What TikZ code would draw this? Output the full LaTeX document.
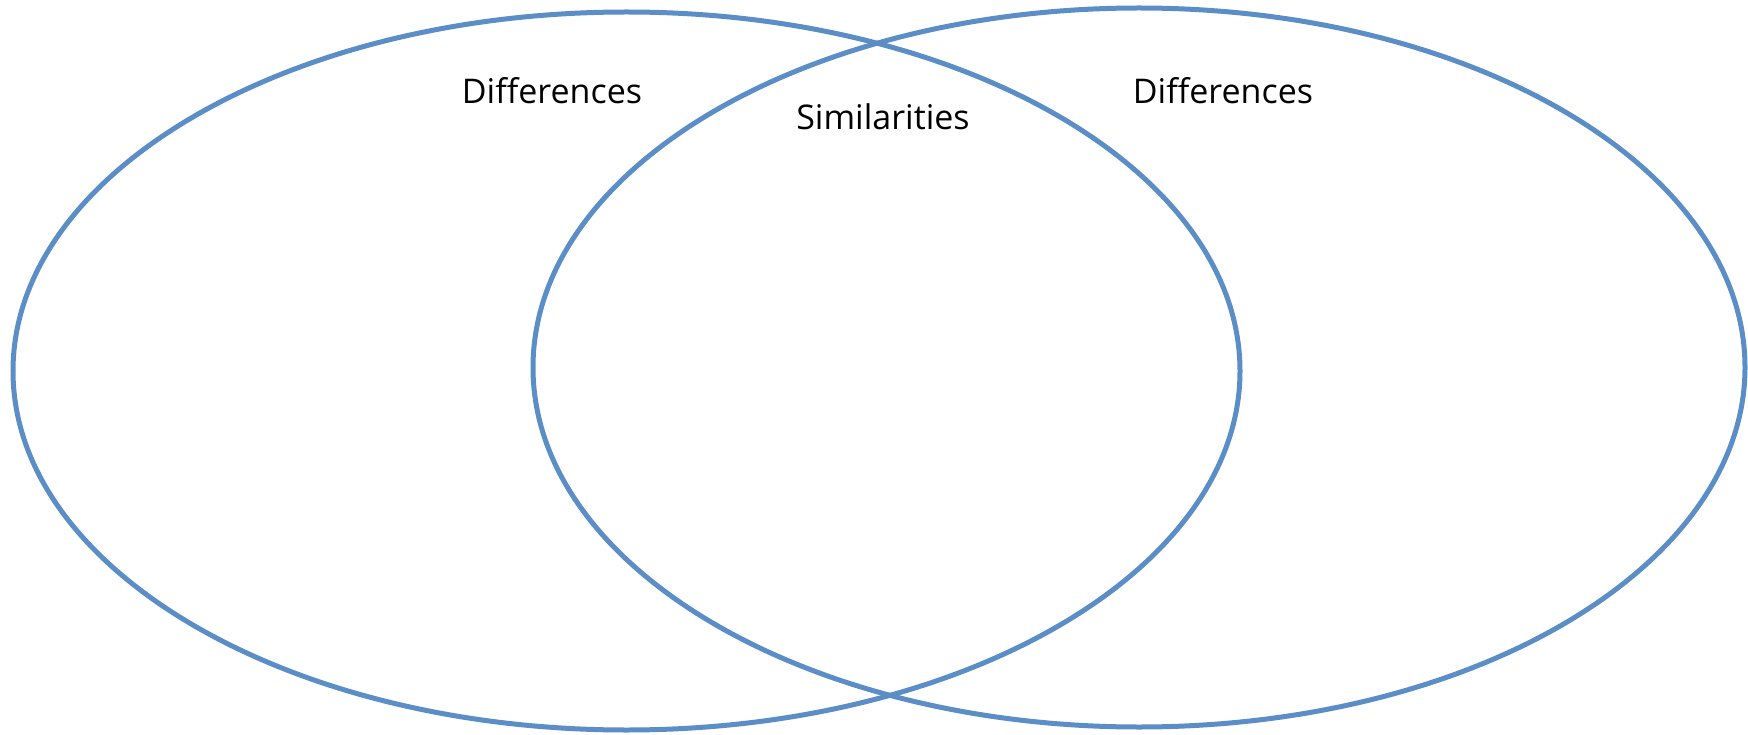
\documentclass[tikz,border=0pt]{standalone}
\usepackage{fontspec}
\setmainfont{Open Sans}
\definecolor{vennblue}{RGB}{91,142,199}
\begin{document}
\begin{tikzpicture}[x=1pt,y=-1pt,
  venn/.style={draw=vennblue,line width=5pt},
  lbl/.style={font=\fontsize{34}{38}\selectfont,text=black,inner sep=0pt}]
\useasboundingbox (0,0) rectangle (1748,735);
\draw[venn] (626.5,371) ellipse [x radius=613.5, y radius=359];
\draw[venn] (1139,367.5) ellipse [x radius=606, y radius=359.5];
\node[lbl] (diffL) at (552,91) {Differences};
\node[lbl] (sim) at (883,117) {Similarities};
\node[lbl] (diffR) at (1223,91) {Differences};
\end{tikzpicture}
\end{document}
